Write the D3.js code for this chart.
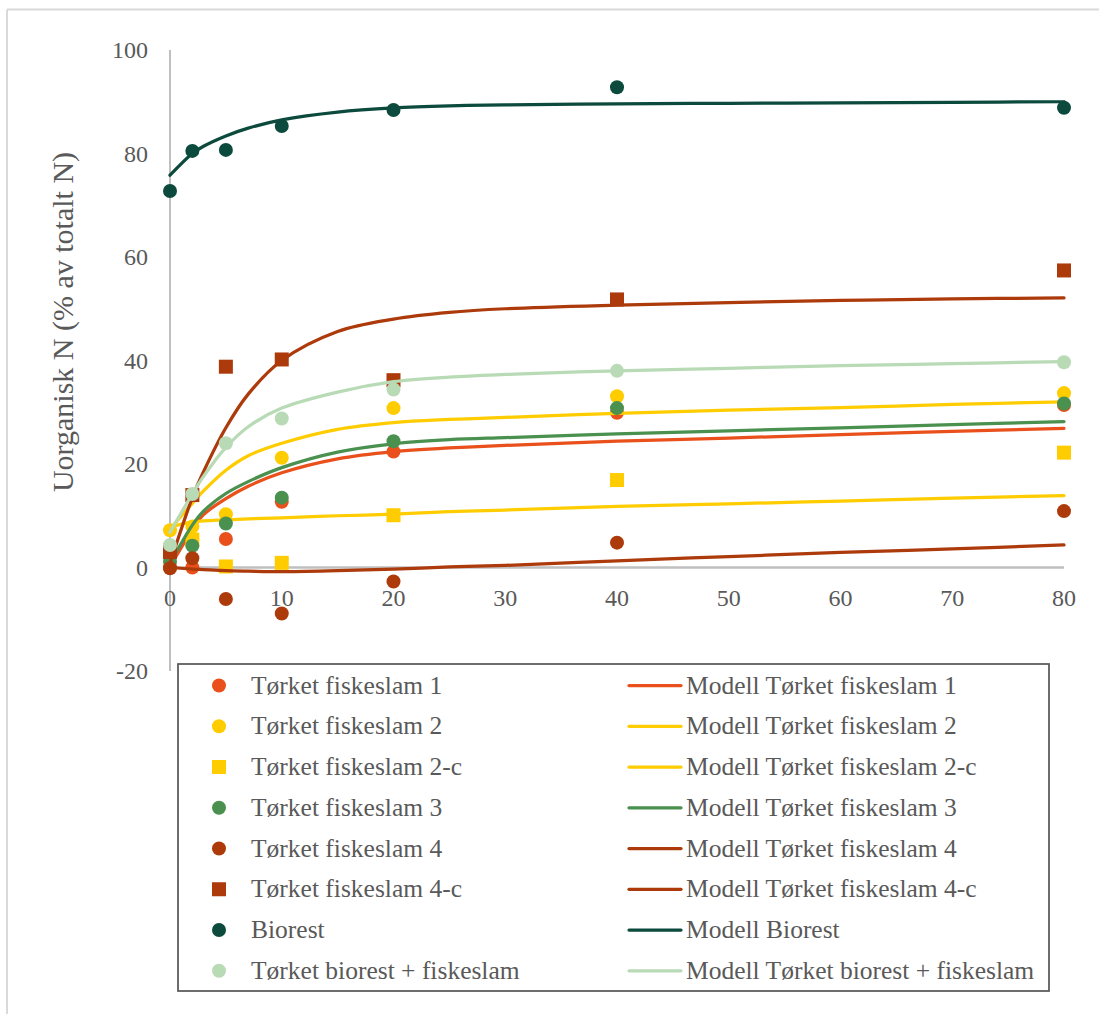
<!DOCTYPE html>
<html>
<head>
<meta charset="utf-8">
<script src="https://cdn.jsdelivr.net/npm/d3@7"></script>
<style>
  html, body { margin: 0; padding: 0; background: #fff; }
  svg text { font-family: "Liberation Serif", "DejaVu Serif", serif; fill: #595959; }
</style>
</head>
<body>
<svg id="chart" width="1099" height="1014"></svg>
<script>
// Sampling days (measured points)
const days = [0, 2, 5, 10, 20, 40, 80];

// Measured organic N (% of total N)
const fisk1   = [0.0, 0.0, 5.5, 12.7, 22.4, 29.9, 31.4];
const fisk2   = [7.2, 7.9, 10.3, 21.2, 30.8, 33.1, 33.7];
const fisk2c  = [3.4, 5.4, 0.2, 0.9, 10.1, 16.9, 22.2];
const fisk3   = [1.1, 4.2, 8.5, 13.5, 24.4, 30.8, 31.7];
const fisk4   = [-0.15, 1.8, -6.1, -8.9, -2.7, 4.8, 10.9];
const fisk4c  = [3.0, 14.0, 38.8, 40.2, 36.2, 51.8, 57.4];
const biorest = [72.75, 80.5, 80.7, 85.3, 88.4, 92.8, 88.85];
const bioFisk = [4.35, 14.2, 24.0, 28.8, 34.4, 38.0, 39.65];

// Model curves, sampled at these days
const modelDays = [0, 2, 3, 5, 7, 10, 15, 20, 25, 30, 40, 50, 60, 70, 80];
const mFisk1   = [0.2, 7.3, 10.2, 13.3, 15.7, 18.3, 21.0, 22.4, 23.1, 23.6, 24.4, 25.0, 25.7, 26.3, 26.9];
const mFisk2   = [7.4, 12.4, 14.8, 18.8, 21.6, 24.0, 26.7, 28.0, 28.6, 29.0, 29.8, 30.4, 30.9, 31.5, 32.0];
const mFisk2c  = [7.8, 8.8, 9.0, 9.2, 9.4, 9.6, 10.0, 10.3, 10.8, 11.1, 11.8, 12.3, 12.85, 13.4, 13.9];
const mFisk3   = [0.8, 8.2, 10.9, 14.3, 16.6, 19.3, 22.3, 23.9, 24.7, 25.1, 25.8, 26.4, 27.0, 27.6, 28.2];
const mFisk4   = [0.0, -0.3, -0.4, -0.6, -0.7, -0.8, -0.6, -0.3, 0.1, 0.4, 1.3, 2.1, 2.9, 3.6, 4.35];
const mFisk4c  = [0.8, 13.5, 18.5, 27.0, 33.5, 40.0, 45.6, 48.0, 49.3, 50.0, 50.7, 51.2, 51.6, 51.9, 52.1];
const mBiorest = [75.8, 80.0, 81.4, 83.4, 84.9, 86.5, 88.0, 88.8, 89.2, 89.4, 89.6, 89.7, 89.8, 89.9, 90.0];
const mBioFisk = [6.8, 14.2, 17.6, 23.2, 27.2, 30.8, 33.9, 35.9, 36.8, 37.3, 38.0, 38.5, 39.0, 39.4, 39.8];

// Axis ticks
const xTicks = [0, 10, 20, 30, 40, 50, 60, 70, 80];
const yTicks = [-20, 0, 20, 40, 60, 80, 100];

const yTitle = "Uorganisk N (% av totalt N)";

// Series in drawing order: each measured series followed by its model
const series = [
  { name: "Tørket fiskeslam 1",           values: fisk1,   model: mFisk1,   color: "#e9501b", shape: "circle" },
  { name: "Tørket fiskeslam 2",           values: fisk2,   model: mFisk2,   color: "#ffcc00", shape: "circle" },
  { name: "Tørket fiskeslam 2-c",         values: fisk2c,  model: mFisk2c,  color: "#ffcc00", shape: "square" },
  { name: "Tørket fiskeslam 3",           values: fisk3,   model: mFisk3,   color: "#4a904f", shape: "circle" },
  { name: "Tørket fiskeslam 4",           values: fisk4,   model: mFisk4,   color: "#ad3a0b", shape: "circle" },
  { name: "Tørket fiskeslam 4-c",         values: fisk4c,  model: mFisk4c,  color: "#ad3a0b", shape: "square" },
  { name: "Biorest",                      values: biorest, model: mBiorest, color: "#0b4a3c", shape: "circle" },
  { name: "Tørket biorest + fiskeslam",   values: bioFisk, model: mBioFisk, color: "#b8dbb6", shape: "circle" }
];

const svg = d3.select("#chart");

// Outer frame (only top and left edges fall inside the page)
svg.append("line").attr("x1", 7).attr("x2", 1099).attr("y1", 9.5).attr("y2", 9.5)
  .attr("stroke", "#d9d9d9").attr("stroke-width", 2);
svg.append("line").attr("x1", 7).attr("x2", 7).attr("y1", 9.5).attr("y2", 1014)
  .attr("stroke", "#d9d9d9").attr("stroke-width", 2);

const x = d3.scaleLinear().domain([0, 80]).range([170, 1064]);
const y = d3.scaleLinear().domain([-20, 100]).range([671, 50]);

// Vertical axis line
svg.append("line")
  .attr("x1", x(0)).attr("x2", x(0))
  .attr("y1", y(100)).attr("y2", y(-20))
  .attr("stroke", "#bfbfbf").attr("stroke-width", 2);

// Horizontal axis at zero
svg.append("line")
  .attr("x1", x(0)).attr("x2", x(80))
  .attr("y1", y(0)).attr("y2", y(0))
  .attr("stroke", "#bfbfbf").attr("stroke-width", 2.5);

// Y tick labels
svg.append("g").selectAll("text").data(yTicks).join("text")
  .attr("x", 148).attr("y", d => y(d) + 8)
  .attr("text-anchor", "end").attr("font-size", 24)
  .text(d => d);

// X tick labels
svg.append("g").selectAll("text").data(xTicks).join("text")
  .attr("x", d => x(d)).attr("y", 606)
  .attr("text-anchor", "middle").attr("font-size", 24)
  .text(d => d);

// Y axis title
svg.append("text")
  .attr("transform", `translate(73, ${322}) rotate(-90)`)
  .attr("text-anchor", "middle").attr("font-size", 30)
  .text(yTitle);

const line = d3.line()
  .x(d => x(d[0])).y(d => y(d[1]))
  .curve(d3.curveCatmullRom.alpha(0.5));

const plot = svg.append("g");

function drawMarker(g, shape, cx, cy, color) {
  if (shape === "square") {
    g.append("rect")
      .attr("x", cx - 7).attr("y", cy - 7)
      .attr("width", 14).attr("height", 14)
      .attr("fill", color);
  } else {
    g.append("circle")
      .attr("cx", cx).attr("cy", cy).attr("r", 7)
      .attr("fill", color);
  }
}

series.forEach(s => {
  const pts = plot.append("g");
  days.forEach((d, i) => drawMarker(pts, s.shape, x(d), y(s.values[i]), s.color));
  plot.append("path")
    .datum(modelDays.map((d, i) => [d, s.model[i]]))
    .attr("d", line)
    .attr("fill", "none")
    .attr("stroke", s.color)
    .attr("stroke-width", 3.25)
    .attr("stroke-linecap", "round");
});

// Legend
const legend = svg.append("g");
legend.append("rect")
  .attr("x", 178).attr("y", 664).attr("width", 871).attr("height", 327)
  .attr("fill", "#fff").attr("stroke", "#595959").attr("stroke-width", 1.75);

const rowY = i => 685.5 + i * 40.75;
series.forEach((s, i) => {
  const cy = rowY(i);
  drawMarker(legend, s.shape, 219, cy, s.color);
  legend.append("text")
    .attr("x", 251).attr("y", cy + 8)
    .attr("font-size", 25.5)
    .text(s.name);
  legend.append("line")
    .attr("x1", 629).attr("x2", 681).attr("y1", cy).attr("y2", cy)
    .attr("stroke", s.color).attr("stroke-width", 3.25)
    .attr("stroke-linecap", "round");
  legend.append("text")
    .attr("x", 686).attr("y", cy + 8)
    .attr("font-size", 25.5)
    .text("Modell " + s.name);
});
</script>
</body>
</html>
